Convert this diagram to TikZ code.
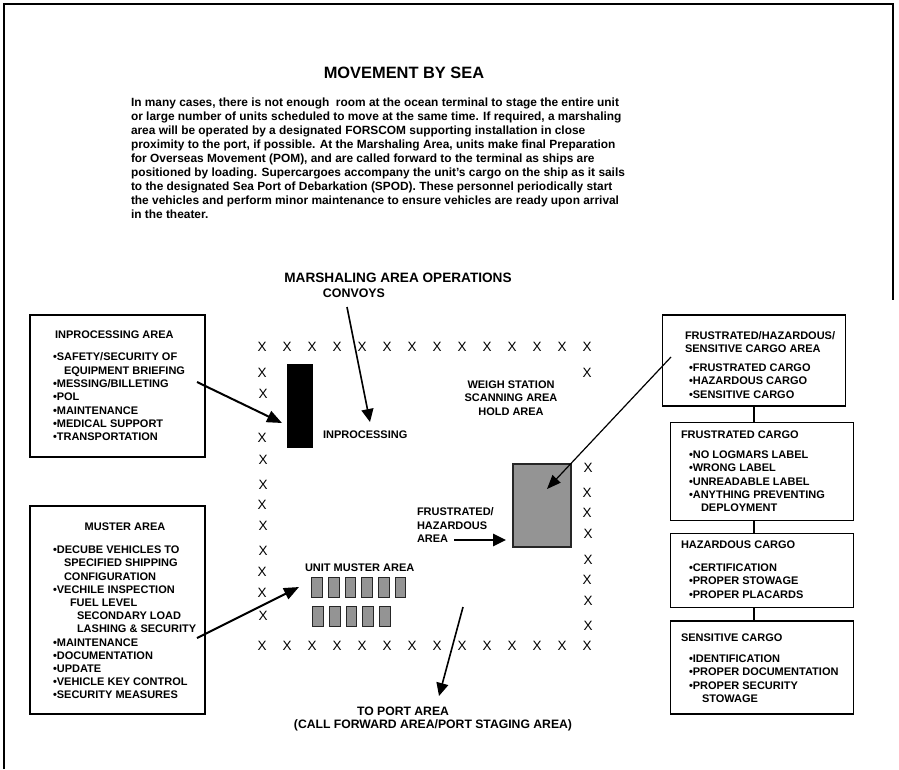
\documentclass[tikz,border=0pt]{standalone}
\usepackage{fontspec}
\setmainfont{Liberation Sans}
\usetikzlibrary{arrows.meta}
\begin{document}
\begin{tikzpicture}[x=1pt,y=-1pt,
  every node/.style={inner sep=0pt,outer sep=0pt},
  bx/.style={font=\bfseries\fontsize{11}{13.3}\selectfont,align=left,anchor=north west},
  bxc/.style={font=\bfseries\fontsize{11}{13.3}\selectfont,align=center},
  panel/.style={draw=black,line width=1.3pt},
  fence/.style={font=\fontsize{13.5}{14}\selectfont},
  thick arrow/.style={line width=2pt,-{Triangle[length=15pt,width=12pt]}},
  thin arrow/.style={line width=1.2pt,-{Triangle[length=14pt,width=11pt]}},
  lot/.style={draw=black!85,line width=1pt,fill=black!42},
]
\useasboundingbox (0,0) rectangle (899,769);

% page frame
\draw[line width=1.6pt] (4,769) -- (4,4) -- (893,4) -- (893,300);

% heading and introductory paragraph
\node[font=\bfseries\fontsize{16.4}{18}\selectfont] (title) at (404,73) {MOVEMENT BY SEA};
\node[font=\bfseries\fontsize{11.9}{14}\selectfont,align=left,anchor=north west] (intro) at (131,97.7)
{In many cases, there is not enough~ room at the ocean terminal to stage the entire unit\\
or large number of units scheduled to move at the same time. If required, a marshaling\\
area will be operated by a designated FORSCOM supporting installation in close\\
proximity to the port, if possible. At the Marshaling Area, units make final Preparation\\
for Overseas Movement (POM), and are called forward to the terminal as ships are\\
positioned by loading. Supercargoes accompany the unit’s cargo on the ship as it sails\\
to the designated Sea Port of Debarkation (SPOD). These personnel periodically start\\
the vehicles and perform minor maintenance to ensure vehicles are ready upon arrival\\
in the theater.};

% marshaling area labels
\node[font=\bfseries\fontsize{13.6}{15}\selectfont] (ops) at (398,278) {MARSHALING AREA OPERATIONS};
\node[font=\bfseries\fontsize{12.4}{14}\selectfont] (convoys) at (354,293) {CONVOYS};
\node[bxc] (weigh) at (511,398) {WEIGH STATION\\SCANNING AREA\\HOLD AREA};
\node[bx,anchor=west] (inproc) at (323,435) {INPROCESSING};
\node[bx] (frust) at (417,508) {FRUSTRATED/\\HAZARDOUS\\AREA};
\node[bx,anchor=west] (musterlbl) at (305,568) {UNIT MUSTER AREA};
\node[font=\bfseries\fontsize{12.2}{14}\selectfont] (port1) at (403,711) {TO PORT AREA};
\node[font=\bfseries\fontsize{12.2}{14}\selectfont] (port2) at (433,725) {(CALL FORWARD AREA/PORT STAGING AREA)};

% fence line of the marshaling area
\foreach \i in {0,...,13}{
  \node[fence] (top\i) at (262+25*\i,347) {X};
  \node[fence] (bot\i) at (262+25*\i,646) {X};
}
\foreach \yy/\xx [count=\k] in {373/262,394/263,438/262,460/263,485/263,505/262,526/263,551/263,572/262,593/262,616/263}
  \node[fence] (lf\k) at (\xx,\yy) {X};
\foreach \yy/\xx [count=\k] in {373/587,468/588,493/587,513/587,534/588,560/588,580/587,601/588,626/588}
  \node[fence] (rt\k) at (\xx,\yy) {X};

% inprocessing building, frustrated cargo lot and vehicle lots
\node[fill=black,minimum width=26pt,minimum height=84pt] (bldg) at (300,406) {};
\node[lot,line width=1.5pt,minimum width=58pt,minimum height=83pt] (hazlot) at (542,505.5) {};
\foreach \i in {0,...,5}
  \node[lot,minimum width=10.7pt,minimum height=20pt] (va\i) at (317+16.7*\i,587.7) {};
\foreach \i in {0,...,4}
  \node[lot,minimum width=10.7pt,minimum height=20pt] (vb\i) at (318+16.7*\i,616) {};

% left panels
\node[panel,minimum width=175pt,minimum height=142pt] (inbox) at (117.5,386) {};
\node[bx] (inhead) at (55,331) {INPROCESSING AREA};
\node[bx] (initems) at (53,353)
{•SAFETY/SECURITY OF\\
\hspace*{11pt}EQUIPMENT BRIEFING\\
•MESSING/BILLETING\\
•POL\\
•MAINTENANCE\\
•MEDICAL SUPPORT\\
•TRANSPORTATION};

\node[panel,minimum width=175pt,minimum height=208pt] (mubox) at (117.5,610) {};
\node[bxc] (muhead) at (125,527) {MUSTER AREA};
\node[bx,font=\bfseries\fontsize{11}{13.2}\selectfont] (muitems) at (53,546)
{•DECUBE VEHICLES TO\\
\hspace*{11pt}SPECIFIED SHIPPING\\
\hspace*{11pt}CONFIGURATION\\
•VECHILE INSPECTION\\
\hspace*{17pt}FUEL LEVEL\\
\hspace*{24pt}SECONDARY LOAD\\
\hspace*{24pt}LASHING \& SECURITY\\
•MAINTENANCE\\
•DOCUMENTATION\\
•UPDATE\\
•VEHICLE KEY CONTROL\\
•SECURITY MEASURES};

% right panels
\node[panel,minimum width=183pt,minimum height=91pt] (cabox) at (754,360.5) {};
\node[bx] (cahead) at (685,331.7) {FRUSTRATED/HAZARDOUS/\\SENSITIVE CARGO AREA};
\node[bx] (caitems) at (689,364) {•FRUSTRATED CARGO\\•HAZARDOUS CARGO\\•SENSITIVE CARGO};

\node[panel,minimum width=183pt,minimum height=98pt] (frbox) at (762,471.5) {};
\node[bx] (frhead) at (681,431) {FRUSTRATED CARGO};
\node[bx] (fritems) at (689,451)
{•NO LOGMARS LABEL\\•WRONG LABEL\\•UNREADABLE LABEL\\•ANYTHING PREVENTING\\\hspace*{12pt}DEPLOYMENT};

\node[panel,minimum width=183pt,minimum height=74pt] (hzbox) at (762,570.5) {};
\node[bx] (hzhead) at (681,541) {HAZARDOUS CARGO};
\node[bx] (hzitems) at (689,564) {•CERTIFICATION\\•PROPER STOWAGE\\•PROPER PLACARDS};

\node[panel,minimum width=183pt,minimum height=93pt] (sebox) at (762,667.5) {};
\node[bx] (sehead) at (681,634) {SENSITIVE CARGO};
\node[bx] (seitems) at (689,655) {•IDENTIFICATION\\•PROPER DOCUMENTATION\\•PROPER SECURITY\\\hspace*{13pt}STOWAGE};

% panel links
\draw[line width=1.3pt] (cabox.south) -- (cabox.south |- frbox.north);
\draw[line width=1.3pt] (cabox.south |- frbox.south) -- (cabox.south |- hzbox.north);
\draw[line width=1.3pt] (cabox.south |- hzbox.south) -- (cabox.south |- sebox.north);

% arrows
\coordinate (inA) at (197,382);  \coordinate (inB) at (282,423);
\coordinate (cvA) at (347,307);  \coordinate (cvB) at (370,422);
\coordinate (caA) at (671,357);  \coordinate (caB) at (547,489);
\coordinate (fhA) at (454,540);  \coordinate (fhB) at (506,540);
\coordinate (muA) at (197,638);  \coordinate (muB) at (299,587);
\coordinate (ptA) at (463,607);  \coordinate (ptB) at (439,696);
\draw[thick arrow] (inA) -- (inB);
\draw[line width=1.6pt,-{Triangle[length=13pt,width=12pt]}] (cvA) -- (cvB);
\draw[thin arrow] (caA) -- (caB);
\draw[line width=2.6pt,-{Triangle[length=13pt,width=12pt]}] (fhA) -- (fhB);
\draw[thick arrow] (muA) -- (muB);
\draw[line width=1.6pt,-{Triangle[length=13pt,width=12pt]}] (ptA) -- (ptB);
\end{tikzpicture}
\end{document}
